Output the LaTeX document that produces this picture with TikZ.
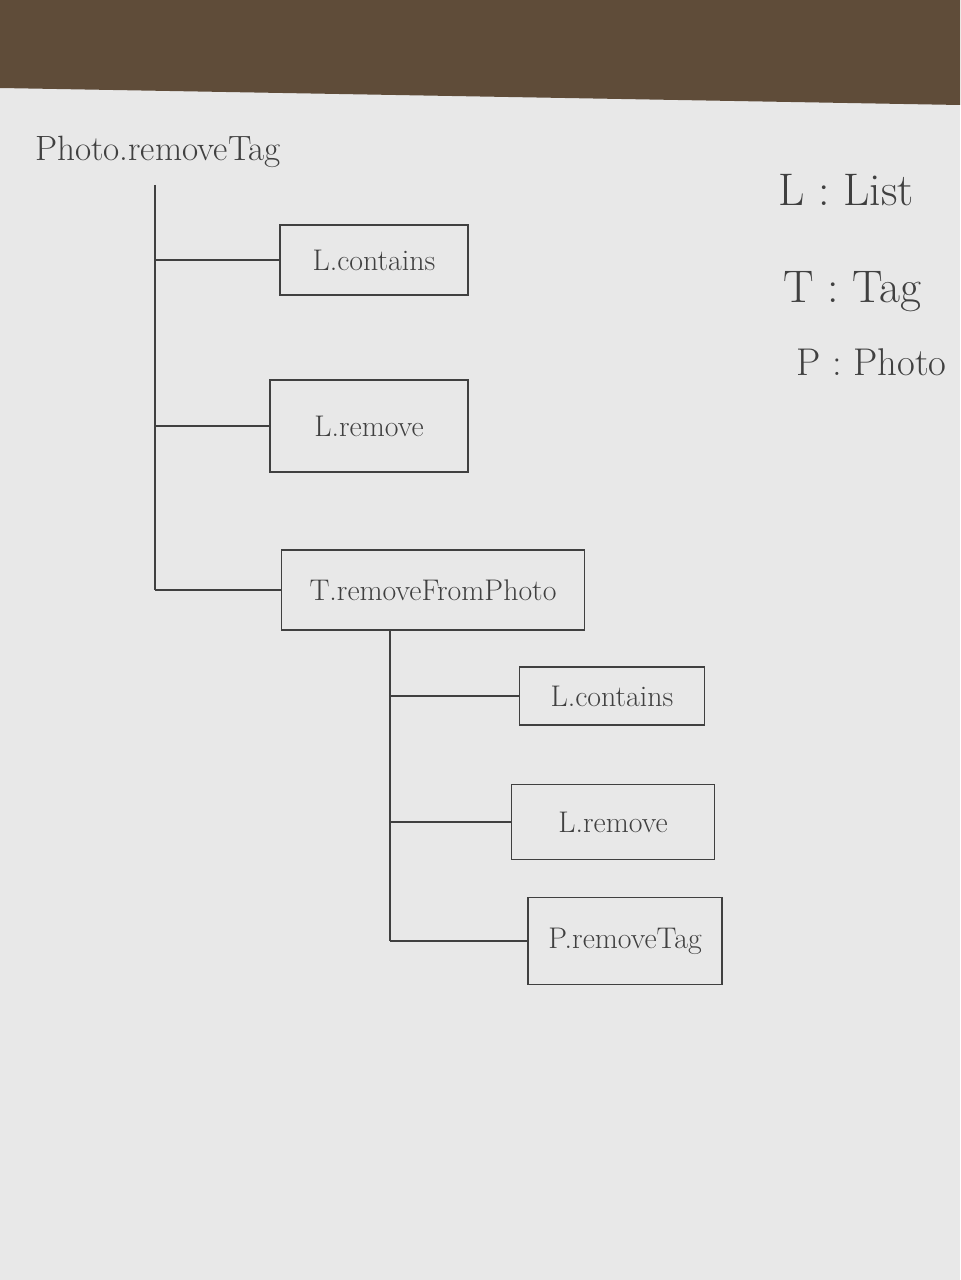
\documentclass[tikz,border=0pt]{standalone}
\usepackage{tikz}
\begin{document}
\begin{tikzpicture}[x=0.02cm, y=-0.02cm]
        \tikzstyle{fn}=[draw=pencil, thick, inner sep=0pt, text=pencil, font=\fontsize{17}{20}\selectfont]
        \tikzstyle{key}=[anchor=west, text=pencil, font=\fontsize{26}{30}\selectfont]
        \colorlet{pencil}{black!75}

        % paper and desk
        \fill[black!9] (0,0) rectangle (960,1280);
        \fill[brown!35!black!85] (0,0) -- (960,0) -- (960,105) -- (0,88) -- cycle;
        \useasboundingbox (0,0) rectangle (960,1280);

        \node (root) [text=pencil, font=\fontsize{20}{24}\selectfont] at (158,152) {Photo.removeTag};

        \node (c1) [fn, minimum width=3.76cm, minimum height=1.4cm] at (374,260) {L.contains};
        \node (c2) [fn, minimum width=3.96cm, minimum height=1.84cm] at (369,426) {L.remove};
        \node (c3) [fn, minimum width=6.06cm, minimum height=1.6cm] at (433,590) {T.removeFromPhoto};
        \node (c4) [fn, minimum width=3.7cm, minimum height=1.16cm] at (612,696) {L.contains};
        \node (c5) [fn, minimum width=4.06cm, minimum height=1.5cm] at (613,822) {L.remove};
        \node (c6) [fn, minimum width=3.88cm, minimum height=1.74cm] at (625,941) {P.removeTag};

        \node (l) [key] at (772,190) {L : List};
        \node (t) [key] at (777,292) {T : Tag};
        \node (p) [key, font=\fontsize{22}{26}\selectfont] at (790,362) {P : Photo};

        \coordinate (t1) at (155,185);
        \coordinate (t2) at (390,630);

        \draw[pencil, thick]
            (t1) -- (t1 |- c3.west)
            (t1 |- c1.west) -- (c1.west)
            (t1 |- c2.west) -- (c2.west)
            (t1 |- c3.west) -- (c3.west)
            (t2) -- (t2 |- c6.west)
            (t2 |- c4.west) -- (c4.west)
            (t2 |- c5.west) -- (c5.west)
            (t2 |- c6.west) -- (c6.west)
        ;

    \end{tikzpicture}
\end{document}
